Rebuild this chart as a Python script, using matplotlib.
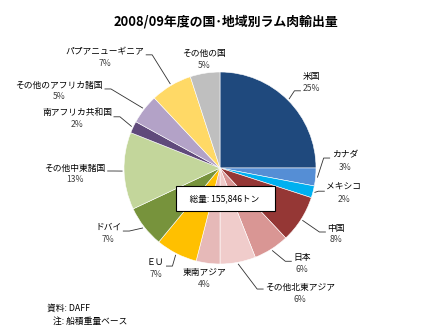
import numpy as np
import matplotlib.pyplot as plt

plt.rcParams['font.family'] = ['Noto Sans CJK JP', 'DejaVu Sans']

# export share by destination (%), clockwise from 12 o'clock
countries = ['米国', 'カナダ', 'メキシコ', '中国', '日本', 'その他北東アジア', '東南アジア',
             'ＥＵ', 'ドバイ', 'その他中東諸国', '南アフリカ共和国', 'その他のアフリカ諸国',
             'パプアニューギニア', 'その他の国']
shares = [25, 3, 2, 8, 6, 6, 4, 7, 7, 13, 2, 5, 7, 5]
total_label = '総量: 155,846トン'

colors = ['#1F497D', '#558ED5', '#00B0F0', '#953735', '#D99694', '#F0CCCB', '#E6B9B8',
          '#FFC000', '#77933C', '#C3D69B', '#604A7B', '#B3A2C7', '#FFD966', '#BFBFBF']

# label centres (pie radius = 1), whether a leader line is drawn, stub offset in px
label_pos = [(0.95, 0.95), (1.30, 0.135), (1.29, -0.20), (1.21, -0.625), (0.855, -0.93),
             (0.835, -1.24), (-0.165, -1.085), (-0.67, -0.98), (-1.165, -0.615),
             (-1.51, 0.0), (-1.49, 0.575), (-1.675, 0.865), (-1.20, 1.21), (-0.165, 1.19)]
has_leader = [True, True, True, True, True, True, False, True, True, True, True, True, True, False]
stub_dy = [14, 3, 4, 4, 4, 2, 0, 4, 4, 3, 4, 4, 3, 0]

W, H = 427, 330
cx, cy, r = 220, 168, 96  # pie centre and radius in pixels

fig = plt.figure(figsize=(W / 100, H / 100), dpi=100)
ax = fig.add_axes([0, 0, 1, 1])

ax.pie(shares, colors=colors, startangle=90, counterclock=False, radius=1,
       wedgeprops=dict(edgecolor='white', linewidth=0.4))
ax.set_xlim(-cx / r, (W - cx) / r)
ax.set_ylim(-(H - cy) / r, cy / r)
ax.set_aspect('auto')
ax.axis('off')

px = 1.0 / r
names, pcts = [], []
for name, s, (lx, ly) in zip(countries, shares, label_pos):
    names.append(ax.text(lx, ly, name, ha='center', va='center', fontsize=6.3, color='black'))
    pcts.append(ax.text(lx, ly - 12 * px, f'{s}%', ha='center', va='center',
                        fontsize=6.2, color='#404040'))

fig.canvas.draw()
renderer = fig.canvas.get_renderer()
inv = ax.transData.inverted()

# leader lines: edge of wedge -> elbow -> short horizontal stub next to the label
angles = 90 - 360 * (np.cumsum(shares) - np.array(shares) / 2) / 100
for i, a in enumerate(angles):
    if not has_leader[i]:
        continue
    ex, ey = 1.02 * np.cos(np.radians(a)), 1.02 * np.sin(np.radians(a))
    b1 = inv.transform(names[i].get_window_extent(renderer))
    b2 = inv.transform(pcts[i].get_window_extent(renderer))
    x0 = min(b1[0][0], b2[0][0])
    x1 = max(b1[1][0], b2[1][0])
    sy = label_pos[i][1] - stub_dy[i] * px
    if label_pos[i][0] > ex:
        end = x0 - 2 * px
        elbow = end - 6 * px
    else:
        end = x1 + 2 * px
        elbow = end + 6 * px
    ax.plot([ex, elbow, end], [ey, sy, sy], color='#303030', linewidth=0.6)

ax.text(0.06, -0.32, '   ' + total_label + '    ', ha='center', va='center', fontsize=6.2,
        bbox=dict(boxstyle='square,pad=0.95', facecolor='white', edgecolor='black', linewidth=0.8))

fig.text(226 / W, 1 - 22 / H, '2008/09年度の国･地域別ラム肉輸出量', ha='center', va='center',
         fontsize=9.3, fontweight='bold')
fig.text(47 / W, 1 - 308 / H, '資料: DAFF', ha='left', va='center', fontsize=6.3)
fig.text(53 / W, 1 - 321 / H, '注: 船積重量ベース', ha='left', va='center', fontsize=6.3)

fig.savefig('out.png', dpi=100)
